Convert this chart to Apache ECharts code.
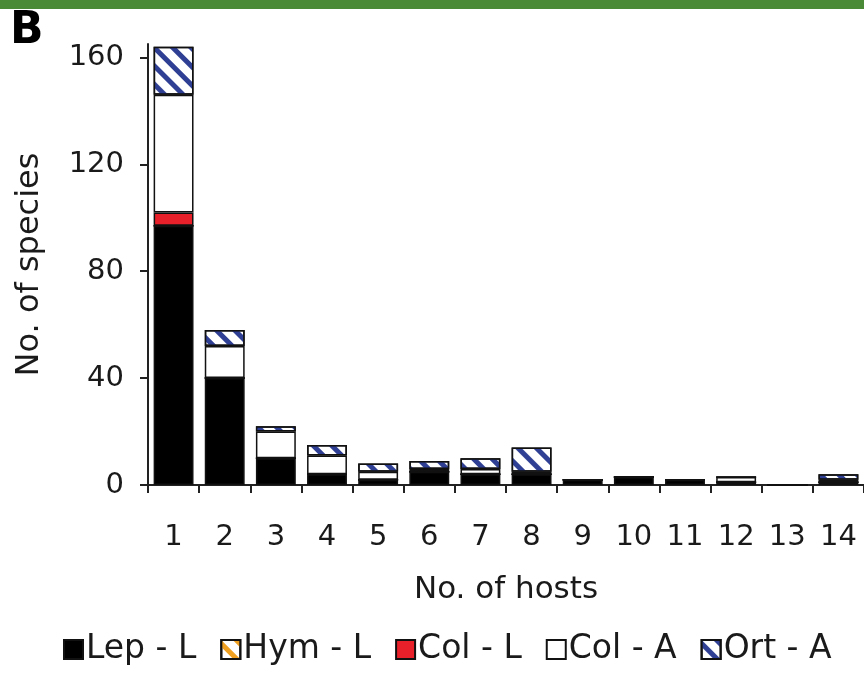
<!DOCTYPE html>
<html>
<head>
<meta charset="utf-8">
<script src="https://cdn.jsdelivr.net/npm/echarts@6/dist/echarts.min.js"></script>
<style>
  html, body { margin: 0; padding: 0; background: #fff; }
  #chart { width: 864px; height: 687px; }
</style>
</head>
<body>
<div id="chart"></div>
<script>
// number of hosts per species, stacked by group
const hosts = ["1", "2", "3", "4", "5", "6", "7", "8", "9", "10", "11", "12", "13", "14"];
const lepL = [97, 40, 10, 4, 2, 5, 4, 4, 2, 3, 2, 1, 0, 1];
const hymL = [0, 0, 0, 0, 0, 0, 0, 0, 0, 0, 0, 0, 0, 0];
const colL = [5, 0, 0, 0, 0, 0, 0, 0, 0, 0, 0, 0, 0, 0];
const colA = [44, 12, 10, 7, 3, 1, 2, 1, 0, 0, 0, 2, 0, 1];
const ortA = [18, 6, 2, 4, 3, 3, 4, 9, 0, 0, 0, 0, 0, 2];
const yTicks = [0, 40, 80, 120, 160];

const font = "DejaVu Sans";
const ink = "#1a1a1a";

const chart = echarts.init(document.getElementById("chart"));

// hatch for the striped groups ("\" direction)
const hatch = (c) => ({
  symbol: "rect",
  symbolSize: 1,
  color: c,
  dashArrayX: [1, 0],
  dashArrayY: [5, 8],
  rotation: Math.PI / 4,
});

const barStyle = (fill, decal) => ({
  color: fill,
  borderColor: "#111",
  borderWidth: 1.5,
  decal: decal,
});

const mk = (name, data, style) => ({
  name: name,
  type: "bar",
  stack: "all",
  barCategoryGap: "22%",
  data: data,
  itemStyle: style,
  emphasis: { disabled: true },
});

const option = {
  animation: false,
  textStyle: { fontFamily: font },
  graphic: [
    { type: "rect", left: 0, top: 0, shape: { width: 864, height: 9 }, style: { fill: "#4a8a37" } },
    { type: "text", left: 10, top: 10, style: { text: "B", fontSize: 44, fontWeight: "bold", fontFamily: font, fill: "#000" } },
  ],
  grid: { left: 148, right: -4, top: 44, bottom: 202 },
  legend: {
    top: 628,
    left: 58,
    itemWidth: 19,
    itemHeight: 19,
    itemGap: 24,
    icon: "rect",
    textStyle: { fontSize: 33, color: ink, fontFamily: font, padding: [0, 0, 0, -2] },
    data: ["Lep - L", "Hym - L", "Col - L", "Col - A", "Ort - A"],
  },
  xAxis: {
    type: "category",
    data: hosts,
    name: "No. of hosts",
    nameLocation: "middle",
    nameGap: 89,
    nameTextStyle: { fontSize: 31, color: ink, fontFamily: font },
    axisLine: { lineStyle: { color: "#222", width: 2 } },
    axisTick: { show: true, alignWithLabel: false, length: 8, lineStyle: { color: "#222", width: 2 } },
    axisLabel: { fontSize: 29, color: ink, margin: 38, fontFamily: font },
  },
  yAxis: {
    type: "value",
    min: 0,
    max: 165,
    name: "No. of species",
    nameLocation: "middle",
    nameGap: 102,
    nameTextStyle: { fontSize: 32, color: ink, fontFamily: font },
    axisLine: { show: true, lineStyle: { color: "#222", width: 2 } },
    axisTick: { show: true, length: 8, customValues: yTicks, lineStyle: { color: "#222", width: 2 } },
    axisLabel: { fontSize: 29, color: ink, margin: 24, customValues: yTicks, fontFamily: font },
    splitLine: { show: false },
  },
  series: [
    mk("Lep - L", lepL, barStyle("#000")),
    mk("Hym - L", hymL, barStyle("#ffffff", hatch("#f0a020"))),
    mk("Col - L", colL, barStyle("#e8202a")),
    mk("Col - A", colA, barStyle("#ffffff")),
    mk("Ort - A", ortA, barStyle("#ffffff", hatch("#2f3f93"))),
  ],
};

chart.setOption(option);
</script>
</body>
</html>
